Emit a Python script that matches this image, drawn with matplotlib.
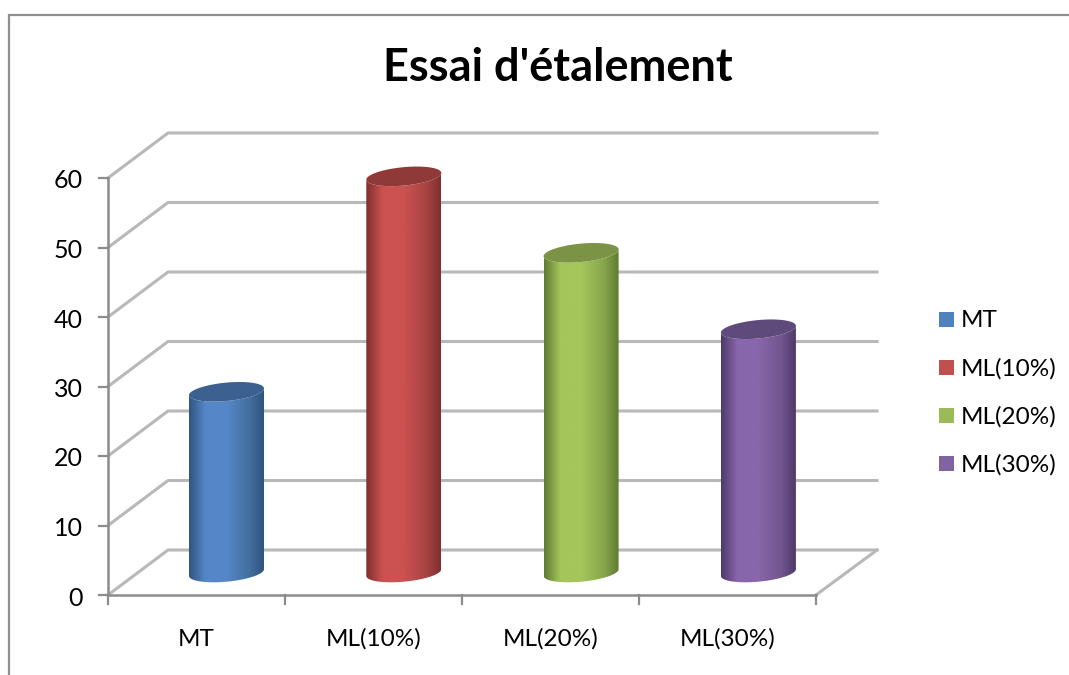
import numpy as np
import matplotlib
matplotlib.use('Agg')
import matplotlib.pyplot as plt
from matplotlib.patches import Polygon
from matplotlib.colors import LinearSegmentedColormap

plt.rcParams['font.family'] = ['Lato', 'DejaVu Sans']

## the data
categories = ['MT', 'ML(10%)', 'ML(20%)', 'ML(30%)']
values = [26, 57, 46, 35]
yticks = [0, 10, 20, 30, 40, 50, 60]
title = "Essai d'étalement"

## colours per bar: edge, middle, shoulder, top of the cylinder, legend
edge_cols = ['#2f5480', '#7e2f2e', '#617a33', '#4e3a69']
mid_cols = ['#5587c8', '#cb5251', '#a4c65b', '#8866ac']
shoulder_cols = ['#44709f', '#a94443', '#87a64c', '#72568f']
top_cols = ['#3c6190', '#8f3a39', '#7b9344', '#5f4a7c']
leg_cols = ['#4f81bd', '#c0504d', '#9bbb59', '#8064a2']
grid_col = '#b8b8b8'
axis_col = '#8c8c8c'

## layout in pixels
W, H = 1069, 675
x_front, x_back = 108, 168
y0_front, y0_back = 595, 550
x_end = 816
px_per_unit = 6.95
bar_first, bar_step = 226.5, 177.3
bar_base = 572.5
a, b, k = 37.5, 9.2, -0.09

fig = plt.figure(figsize=(W / 100, H / 100), dpi=100)
ax = fig.add_axes([0, 0, 1, 1])
ax.set_xlim(0, W)
ax.set_ylim(H, 0)
ax.axis('off')

## outer frame
ax.plot([9, 9, W], [H, 15, 15], color='#8f8f8f', lw=1.6, solid_joinstyle='miter')

## walls, grid
for v in yticks:
    yf = y0_front - v * px_per_unit
    yb = y0_back - v * px_per_unit
    ax.plot([x_front, x_back, 877], [yf, yb, yb], color=grid_col, lw=2.2, zorder=1)
    ax.plot([x_front - 9, x_front], [yf, yf], color=axis_col, lw=1.6, zorder=2)
    ax.text(83, yf + 3, str(v), ha='right', va='center', fontsize=18, color='black')

## floor and axes
ax.plot([x_end, 877], [y0_front, y0_back], color=grid_col, lw=2.2, zorder=1)
ax.plot([x_front, x_end], [y0_front, y0_front], color=axis_col, lw=1.8, zorder=2)
ax.plot([x_front, x_front], [y0_front, y0_front - 60 * px_per_unit], color=axis_col, lw=1.8, zorder=2)
for i in range(len(categories) + 1):
    xt = x_front + i * (x_end - x_front) / len(categories)
    ax.plot([xt, xt], [y0_front, 604], color=axis_col, lw=1.6, zorder=2)

## cylinders
t = np.linspace(0, 2 * np.pi, 200)
for i, (name, v) in enumerate(zip(categories, values)):
    cx = bar_first + i * bar_step
    cy = bar_base - v * px_per_unit
    ex = a * np.cos(t)
    ey = b * np.sin(t) + k * ex

    # body outline: back of the top ellipse is hidden by the top face
    lower = np.sin(t) >= 0
    order = np.argsort(ex[lower])
    bx, by = ex[lower][order], ey[lower][order]
    outline = np.vstack([
        np.column_stack([cx + bx, bar_base + by]),
        np.column_stack([cx + bx[::-1], cy + by[::-1]]),
    ])
    cmap = LinearSegmentedColormap.from_list('c', [(0, edge_cols[i]), (0.22, mid_cols[i]),
                                                   (0.5, mid_cols[i]), (0.8, shoulder_cols[i]),
                                                   (1, edge_cols[i])])
    grad = np.linspace(0, 1, 256).reshape(1, -1)
    im = ax.imshow(grad, cmap=cmap, extent=[cx - a, cx + a, bar_base + 20, cy - 20],
                   aspect='auto', zorder=3, interpolation='bilinear')
    patch = Polygon(outline, closed=True, transform=ax.transData, fc='none', ec='none')
    ax.add_patch(patch)
    im.set_clip_path(patch)
    ax.fill(cx + ex, cy + ey, color=top_cols[i], zorder=4, lw=0)

    ## category label
    ax.text(x_front + (i + 0.5) * (x_end - x_front) / len(categories), 639, name,
            ha='center', va='center', fontsize=17.5, color='black')

    ## legend
    ly = 319.5 + i * 48
    ax.fill([939, 954, 954, 939], [ly - 7.5, ly - 7.5, ly + 7.5, ly + 7.5], color=leg_cols[i], lw=0)
    ax.text(961, ly + 1, name, ha='left', va='center', fontsize=17.5, color='black')

ax.set_xlim(0, W)
ax.set_ylim(H, 0)

ax.text(558, 68, title, ha='center', va='center', fontsize=32.5, fontweight='bold', color='black')

fig.savefig('out.png', dpi=100)
